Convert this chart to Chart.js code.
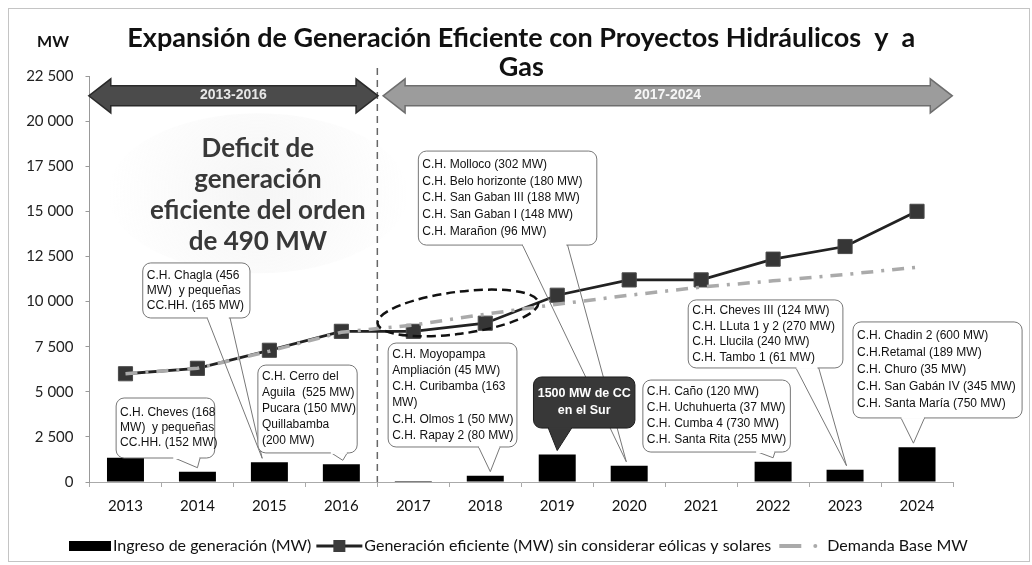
<!DOCTYPE html>
<html>
<head>
<meta charset="utf-8">
<script src="https://cdn.jsdelivr.net/npm/chart.js@4.4.1/dist/chart.umd.min.js"></script>
<style>
  body { margin: 0; background: #fff; }
</style>
</head>
<body>
<canvas id="myChart" width="1032" height="565"></canvas>
<script>
// datos
const years = ['2013', '2014', '2015', '2016', '2017', '2018', '2019', '2020', '2021', '2022', '2023', '2024'];
const ingreso = [1350, 570, 1090, 980, 60, 350, 1520, 900, 0, 1120, 680, 1930];
const eficiente = [6000, 6300, 7300, 8350, 8350, 8800, 10350, 11200, 11200, 12350, 13050, 15000];
const demanda = [6000, 6300, 7250, 8300, 8700, 9300, 9850, 10350, 10800, 11150, 11500, 11900];
const yTicks = [0, 2500, 5000, 7500, 10000, 12500, 15000, 17500, 20000, 22500];

const seriesNames = [
    'Ingreso de generación (MW)',
    'Generación eficiente (MW) sin considerar eólicas y solares',
    'Demanda Base MW'
];

// cuadros de texto: x en índice de categoría, y en MW
const notas = [
    { lines: ['C.H. Cheves (168', 'MW)  y pequeñas', 'CC.HH. (152 MW)'],
      x: [-0.13, 1.24], y: [4655, 1330], base: [0.65, 1.04], bar: 1, dx: 0, lh: 15, fill: true },
    { lines: ['C.H. Chagla (456', 'MW)  y pequeñas', 'CC.HH. (165 MW)'],
      x: [0.24, 1.73], y: [12140, 9090], base: [1.13, 1.45], bar: 2, dx: -0.1, lh: 15 },
    { lines: ['C.H. Cerro del', 'Aguila  (525 MW)', 'Pucara (150 MW)', 'Quillabamba', '(200 MW)'],
      x: [1.84, 3.22], y: [6480, 1610], base: [2.84, 3.09], bar: 3, dx: 0.02, lh: 16, fill: true },
    { lines: ['C.H. Moyopampa', 'Ampliación (45 MW)', 'C.H. Curibamba (163', 'MW)', 'C.H. Olmos 1 (50 MW)', 'C.H. Rapay 2 (80 MW)'],
      x: [3.65, 5.44], y: [7700, 1940], base: [4.9, 5.21], bar: 5, dx: 0.07, lh: 16.3, fill: true },
    { lines: ['C.H. Molloco (302 MW)', 'C.H. Belo horizonte (180 MW)', 'C.H. San Gaban III (188 MW)', 'C.H. San Gaban I (148 MW)', 'C.H. Marañon (96 MW)'],
      x: [4.07, 6.55], y: [18340, 13130], base: [5.51, 6.14], bar: 7, dx: -0.04, lh: 16.7 },
    { lines: ['C.H. Caño (120 MW)', 'C.H. Uchuhuerta (37 MW)', 'C.H. Cumba 4 (730 MW)', 'C.H. Santa Rita (255 MW)'],
      x: [7.19, 9.24], y: [5650, 1660], base: [8.75, 9.03], bar: 9, dx: 0, lh: 16, fill: true },
    { lines: ['C.H. Cheves III (124 MW)', 'C.H. LLuta 1 y 2 (270 MW)', 'C.H. Llucila (240 MW)', 'C.H. Tambo 1 (61 MW)'],
      x: [7.82, 9.97], y: [10090, 6320], base: [9.31, 9.63], bar: 10, dx: 0.02, lh: 15.5 },
    { lines: ['C.H. Chadin 2 (600 MW)', 'C.H.Retamal (189 MW)', 'C.H. Churo (35 MW)', 'C.H. San Gabán IV (345 MW)', 'C.H. Santa María (750 MW)'],
      x: [10.11, 12.46], y: [8870, 3550], base: [10.77, 11.11], bar: 11, dx: -0.05, lh: 17, fill: true },
    { lines: ['1500 MW de CC', 'en el Sur'],
      x: [5.67, 7.08], y: [5820, 2990], base: [5.87, 6.21], bar: 6, dx: 0, lh: 17, fill: true, dark: true }
];

function miles(v) {
    return String(v).replace(/\B(?=(\d{3})+(?!\d))/g, ' ');
}

function roundRect(ctx, x, y, w, h, r) {
    ctx.beginPath();
    ctx.moveTo(x + r, y);
    ctx.arcTo(x + w, y, x + w, y + h, r);
    ctx.arcTo(x + w, y + h, x, y + h, r);
    ctx.arcTo(x, y + h, x, y, r);
    ctx.arcTo(x, y, x + w, y, r);
    ctx.closePath();
}

function flecha(ctx, x1, x2, yc, fill, stroke) {
    const hh = 17, sh = 10, hl = 22;
    ctx.beginPath();
    ctx.moveTo(x1, yc);
    ctx.lineTo(x1 + hl, yc - hh);
    ctx.lineTo(x1 + hl, yc - sh);
    ctx.lineTo(x2 - hl, yc - sh);
    ctx.lineTo(x2 - hl, yc - hh);
    ctx.lineTo(x2, yc);
    ctx.lineTo(x2 - hl, yc + hh);
    ctx.lineTo(x2 - hl, yc + sh);
    ctx.lineTo(x1 + hl, yc + sh);
    ctx.lineTo(x1 + hl, yc + hh);
    ctx.closePath();
    ctx.fillStyle = fill;
    ctx.fill();
    ctx.strokeStyle = stroke;
    ctx.lineWidth = 1.5;
    ctx.stroke();
}

const decor = {
    id: 'decor',
    beforeDatasetsDraw(chart) {
        const ctx = chart.ctx;
        const X = i => chart.scales.x.getPixelForValue(i);
        const Y = v => chart.scales.y.getPixelForValue(v);
        ctx.save();

        // nube clara detrás del texto de déficit
        const cx = X(1.84), cy = Y(16000);
        const g = ctx.createRadialGradient(cx, cy, 10, cx, cy, 150);
        g.addColorStop(0, 'rgba(200,200,200,0.16)');
        g.addColorStop(1, 'rgba(200,200,200,0)');
        ctx.fillStyle = g;
        ctx.beginPath();
        ctx.ellipse(cx, cy, 150, 80, 0, 0, Math.PI * 2);
        ctx.fill();

        ctx.fillStyle = '#383838';
        ctx.font = 'bold 26px Lato';
        ctx.textAlign = 'center';
        ctx.textBaseline = 'middle';
        ['Deficit de', 'generación', 'eficiente del orden', 'de 490 MW'].forEach((t, k) => {
            ctx.fillText(t, cx, Y(18500) + k * 31);
        });

        // línea vertical punteada entre 2016 y 2017
        ctx.strokeStyle = '#666';
        ctx.lineWidth = 1.5;
        ctx.setLineDash([7, 5]);
        ctx.beginPath();
        ctx.moveTo(X(3.5), Y(22500) - 8);
        ctx.lineTo(X(3.5), Y(0));
        ctx.stroke();
        ctx.setLineDash([]);

        // flechas de periodo
        const ya = Y(21400);
        flecha(ctx, X(-0.51), X(3.51), ya, '#4b4b4b', '#2a2a2a');
        flecha(ctx, X(3.58), X(11.49), ya, '#9c9c9c', '#6e6e6e');
        ctx.font = 'bold 14px "Liberation Sans"';
        ctx.fillStyle = '#e6e6e6';
        ctx.fillText('2013-2016', (X(-0.51) + X(3.51)) / 2, ya - 1);
        ctx.fillStyle = '#f6f6f6';
        ctx.fillText('2017-2024', (X(3.58) + X(11.49)) / 2, ya - 1);
        ctx.restore();
    },
    afterDatasetsDraw(chart) {
        const ctx = chart.ctx;
        const area = chart.chartArea;
        const X = i => chart.scales.x.getPixelForValue(i);
        const Y = v => chart.scales.y.getPixelForValue(v);
        ctx.save();

        // elipse punteada 2017-2018
        ctx.strokeStyle = '#111';
        ctx.lineWidth = 2.5;
        ctx.setLineDash([9, 5]);
        ctx.beginPath();
        ctx.ellipse(X(4.62), Y(9370), 81, 21, -0.13, 0, Math.PI * 2);
        ctx.stroke();
        ctx.setLineDash([]);

        // cuadros de texto
        notas.forEach(n => {
            const l = X(n.x[0]), r = X(n.x[1]), t = Y(n.y[0]), b = Y(n.y[1]);
            const b1 = X(n.base[0]), b2 = X(n.base[1]);
            const tx = X(n.bar + n.dx), ty = Y(ingreso[n.bar]) - 4;
            const bg = n.dark ? '#383838' : '#fff';
            ctx.fillStyle = bg;
            ctx.strokeStyle = n.dark ? '#1e1e1e' : '#777';
            ctx.lineWidth = 1;
            ctx.beginPath();
            ctx.moveTo(b1, b - 1);
            ctx.lineTo(tx, ty);
            ctx.lineTo(b2, b - 1);
            if (n.fill) ctx.fill();
            ctx.stroke();
            roundRect(ctx, l, t, r - l, b - t, 8);
            ctx.fill();
            ctx.stroke();
            ctx.strokeStyle = bg;
            ctx.lineWidth = 2;
            ctx.beginPath();
            ctx.moveTo(b1 + 1, b);
            ctx.lineTo(b2 - 1, b);
            ctx.stroke();

            ctx.textBaseline = 'middle';
            const y0 = (t + b) / 2 - (n.lines.length - 1) * n.lh / 2;
            if (n.dark) {
                ctx.font = 'bold 12.5px "Liberation Sans"';
                ctx.fillStyle = '#fff';
                ctx.textAlign = 'center';
                n.lines.forEach((s, k) => ctx.fillText(s, (l + r) / 2, y0 + k * n.lh));
            } else {
                ctx.font = '12px "Liberation Sans"';
                ctx.fillStyle = '#111';
                ctx.textAlign = 'left';
                n.lines.forEach((s, k) => ctx.fillText(s, l + 4, y0 + k * n.lh));
            }
        });

        // título
        const mid = (area.left + area.right) / 2;
        ctx.fillStyle = '#111';
        ctx.textAlign = 'center';
        ctx.textBaseline = 'middle';
        ctx.font = 'bold 27px Lato';
        ctx.fillText('Expansión de Generación Eficiente con Proyectos Hidráulicos  y  a', mid, 38);
        ctx.fillText('Gas', mid, 67);
        ctx.font = 'bold 16px Lato';
        ctx.fillText('MW', 53, 42);

        // leyenda
        const ly = 546;
        let x = 69;
        ctx.font = '16px Lato';
        ctx.textAlign = 'left';
        ctx.fillStyle = '#000';
        ctx.fillRect(x, ly - 5, 42, 10);
        x += 44;
        ctx.fillStyle = '#111';
        ctx.fillText(seriesNames[0], x, ly);
        x += ctx.measureText(seriesNames[0]).width + 5;
        ctx.strokeStyle = '#222';
        ctx.lineWidth = 3;
        ctx.beginPath();
        ctx.moveTo(x, ly);
        ctx.lineTo(x + 46, ly);
        ctx.stroke();
        ctx.fillStyle = '#3c3c3c';
        ctx.fillRect(x + 17, ly - 6, 12, 12);
        x += 48;
        ctx.fillStyle = '#111';
        ctx.fillText(seriesNames[1], x, ly);
        x += ctx.measureText(seriesNames[1]).width + 8;
        ctx.strokeStyle = '#aaa';
        ctx.lineWidth = 4;
        ctx.beginPath();
        ctx.moveTo(x, ly);
        ctx.lineTo(x + 22, ly);
        ctx.stroke();
        ctx.fillStyle = '#aaa';
        ctx.beginPath();
        ctx.arc(x + 36, ly, 2, 0, Math.PI * 2);
        ctx.fill();
        x += 48;
        ctx.fillStyle = '#111';
        ctx.fillText(seriesNames[2], x, ly);

        // marco
        ctx.strokeStyle = '#c4c4c4';
        ctx.lineWidth = 1;
        ctx.strokeRect(8.5, 8.5, 1021, 553);
        ctx.restore();
    }
};

document.addEventListener('DOMContentLoaded', function() {
    const ctx = document.getElementById('myChart').getContext('2d');

    new Chart(ctx, {
        data: {
            labels: years,
            datasets: [{
                type: 'line',
                label: seriesNames[2],
                data: demanda,
                borderColor: '#aaaaaa',
                borderWidth: 3.5,
                borderDash: [12, 8, 3, 8],
                pointRadius: 0,
                tension: 0,
                order: 0
            }, {
                type: 'line',
                label: seriesNames[1],
                data: eficiente,
                borderColor: '#222',
                borderWidth: 2.8,
                pointStyle: 'rect',
                pointRadius: 10,
                pointBackgroundColor: '#363636',
                pointBorderColor: '#4a4a4a',
                pointBorderWidth: 1,
                tension: 0,
                order: 1
            }, {
                type: 'bar',
                label: seriesNames[0],
                data: ingreso,
                backgroundColor: '#000',
                categoryPercentage: 1,
                barPercentage: 0.514,
                order: 2
            }]
        },
        options: {
            responsive: false,
            animation: false,
            layout: {
                padding: { top: 76, right: 79, bottom: 40, left: 0 }
            },
            plugins: {
                legend: { display: false },
                tooltip: { enabled: false }
            },
            scales: {
                x: {
                    afterFit: s => { s.height = 43; },
                    border: { color: '#aaa' },
                    grid: {
                        offset: true,
                        drawOnChartArea: false,
                        tickLength: 5,
                        color: '#aaa'
                    },
                    ticks: {
                        padding: 10,
                        color: '#111',
                        font: { family: 'Lato', size: 15 }
                    }
                },
                y: {
                    min: 0,
                    max: 22500,
                    afterFit: s => { s.width = 89.5; },
                    afterBuildTicks: s => { s.ticks = yTicks.map(v => ({ value: v })); },
                    border: { color: '#999' },
                    grid: {
                        drawOnChartArea: false,
                        tickLength: 4,
                        color: '#999'
                    },
                    ticks: {
                        padding: 12,
                        color: '#222',
                        font: { family: 'Lato', size: 15 },
                        callback: v => miles(v)
                    }
                }
            }
        },
        plugins: [decor]
    });
});
</script>
</body>
</html>
